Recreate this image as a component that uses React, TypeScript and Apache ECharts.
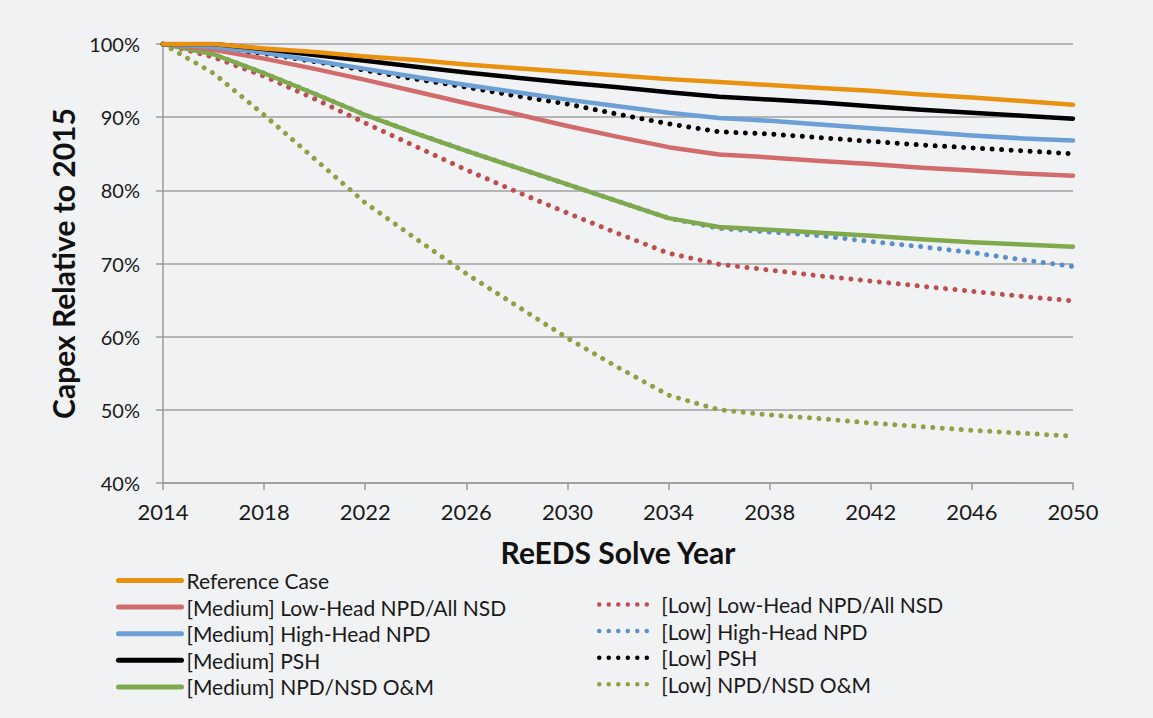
import React, { useEffect, useRef } from "react";
import * as echarts from "echarts";

const years = ["2014","2016","2018","2020","2022","2024","2026","2028","2030","2032","2034","2036","2038","2040","2042","2044","2046","2048","2050"];

const referenceCase = [100, 100, 99.4, 98.9, 98.3, 97.8, 97.2, 96.7, 96.2, 95.7, 95.2, 94.8, 94.4, 94.0, 93.6, 93.1, 92.7, 92.2, 91.7];
const medLowHead = [100, 99.2, 98.0, 96.6, 95.1, 93.5, 91.9, 90.4, 88.8, 87.3, 85.9, 84.9, 84.5, 84.0, 83.6, 83.1, 82.7, 82.3, 82.0];
const medHighHead = [100, 99.6, 98.8, 97.7, 96.6, 95.5, 94.4, 93.4, 92.4, 91.5, 90.6, 89.9, 89.5, 89.0, 88.5, 88.0, 87.5, 87.1, 86.8];
const medPSH = [100, 100, 99.3, 98.5, 97.7, 96.9, 96.1, 95.4, 94.7, 94.1, 93.4, 92.8, 92.4, 92.0, 91.5, 91.0, 90.6, 90.2, 89.8];
const medOM = [100, 98.6, 96.0, 93.2, 90.3, 87.8, 85.4, 83.1, 80.8, 78.5, 76.2, 75.0, 74.6, 74.2, 73.8, 73.3, 72.9, 72.6, 72.3];
const lowLowHead = [100, 98.2, 95.6, 92.5, 89.2, 86.0, 82.8, 79.8, 76.9, 74.1, 71.4, 69.9, 69.1, 68.3, 67.6, 66.9, 66.2, 65.5, 64.9];
const lowHighHead = [100, 98.6, 96.0, 93.2, 90.3, 87.8, 85.4, 83.1, 80.8, 78.5, 76.2, 74.8, 74.3, 73.8, 73.0, 72.3, 71.5, 70.5, 69.6];
const lowPSH = [100, 99.5, 98.7, 97.6, 96.4, 95.2, 94.1, 92.9, 91.8, 90.4, 89.1, 88.0, 87.7, 87.2, 86.7, 86.2, 85.8, 85.4, 85.0];
const lowOM = [100, 96.0, 90.3, 84.3, 78.3, 73.4, 68.6, 64.2, 59.8, 55.8, 52.0, 50.0, 49.3, 48.8, 48.2, 47.7, 47.2, 46.8, 46.4];

const yTicks = { min: 40, max: 100, step: 10 };

const FONT = "Lato, 'Open Sans', sans-serif";

export default function App() {
  const ref = useRef<HTMLDivElement>(null);
  useEffect(() => {
    document.body.style.margin = "0";
    const chart = echarts.init(ref.current!, undefined, { renderer: "svg" });
    const solid = (name: string, data: number[], color: string) => ({
      name, type: "line", data, symbol: "none", showSymbol: false,
      lineStyle: { color, width: 4.5, type: "solid", cap: "round", join: "round" },
      itemStyle: { color },
    });
    const dotted = (name: string, data: number[], color: string) => ({
      name, type: "line", data, symbol: "none", showSymbol: false,
      lineStyle: { color, width: 5, type: [0.01, 9.5], cap: "round", join: "round" },
      itemStyle: { color },
    });
    const legendText = { fontFamily: FONT, fontSize: 21, color: "#1a1a1a", lineHeight: 20 };
    const hiddenSymbol = { opacity: 0, borderWidth: 0 };
    chart.setOption({
      animation: false,
      backgroundColor: "#F1F2F4",
      textStyle: { fontFamily: FONT },
      grid: { left: 163, right: 80, top: 44, bottom: 235 },
      legend: [
        {
          data: ["Reference Case", "[Medium] Low-Head NPD/All NSD", "[Medium] High-Head NPD", "[Medium] PSH", "[Medium] NPD/NSD O&M"],
          orient: "vertical", left: 116, top: 570, itemWidth: 63, itemHeight: 14, itemGap: 5.6,
          textStyle: legendText, selectedMode: false, padding: 0, itemStyle: hiddenSymbol,
          lineStyle: { width: 5 },
        },
        {
          data: ["[Low] Low-Head NPD/All NSD", "[Low] High-Head NPD", "[Low] PSH", "[Low] NPD/NSD O&M"],
          orient: "vertical", left: 597, top: 594, itemWidth: 57, itemHeight: 14, itemGap: 5.6,
          textStyle: legendText, selectedMode: false, padding: 0, itemStyle: hiddenSymbol,
          lineStyle: { width: 4.5 },
        },
      ],
      xAxis: {
        type: "category", data: years, boundaryGap: false,
        name: "ReEDS Solve Year", nameLocation: "middle", nameGap: 54,
        nameTextStyle: { fontFamily: FONT, fontSize: 30, fontWeight: "bold", color: "#111" },
        axisLine: { lineStyle: { color: "#9a9a9a", width: 1.5 } },
        axisTick: { interval: 1, length: 7, lineStyle: { color: "#9a9a9a", width: 1.5 } },
        axisLabel: { interval: 1, margin: 17, fontFamily: FONT, fontSize: 22, color: "#1a1a1a" },
        splitLine: { show: false },
      },
      yAxis: {
        type: "value", min: yTicks.min, max: yTicks.max, interval: yTicks.step,
        name: "Capex Relative to 2015", nameLocation: "middle", nameGap: 67,
        nameTextStyle: { fontFamily: FONT, fontSize: 30, fontWeight: "bold", color: "#111" },
        axisLine: { show: true, lineStyle: { color: "#9a9a9a", width: 1.5 } },
        axisTick: { show: true, length: 7, lineStyle: { color: "#9a9a9a", width: 1.5 } },
        axisLabel: { formatter: "{value}%", margin: 23, fontFamily: FONT, fontSize: 20, color: "#1a1a1a" },
        splitLine: { lineStyle: { color: "#a0a0a0", width: 1.5 } },
      },
      series: [
        dotted("[Low] Low-Head NPD/All NSD", lowLowHead, "#BF4F4F"),
        dotted("[Low] High-Head NPD", lowHighHead, "#5A8DCB"),
        dotted("[Low] PSH", lowPSH, "#000000"),
        dotted("[Low] NPD/NSD O&M", lowOM, "#8FA142"),
        solid("[Medium] NPD/NSD O&M", medOM, "#80A94C"),
        solid("[Medium] Low-Head NPD/All NSD", medLowHead, "#D26B6B"),
        solid("[Medium] High-Head NPD", medHighHead, "#6C9FD5"),
        solid("[Medium] PSH", medPSH, "#000000"),
        solid("Reference Case", referenceCase, "#E8920F"),
      ],
    });
    return () => chart.dispose();
  }, []);
  return <div ref={ref} style={{ width: 1153, height: 718 }} />;
}
